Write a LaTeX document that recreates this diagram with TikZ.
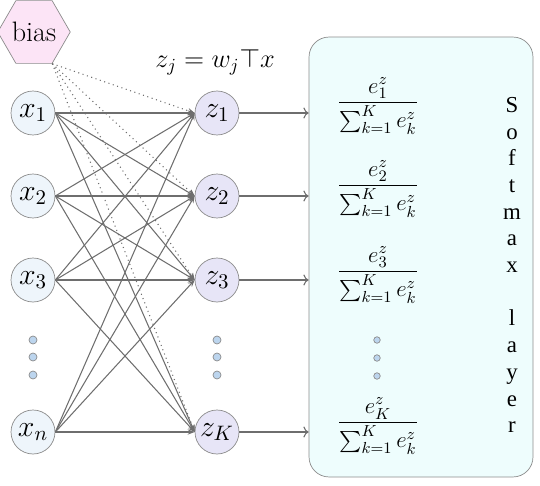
\RequirePackage{fix-cm}
\documentclass[tikz,border=0pt]{standalone}
\usepackage{amsmath}
\usepackage{xcolor}
\usepackage{fontspec}
\newfontfamily\timesfont{Liberation Serif}
\usepackage{tikz}
\usetikzlibrary{shapes.geometric,arrows.meta}
\definecolor{netgray}{HTML}{6E6E6E}
\definecolor{rimgray}{HTML}{8C8C8C}
\definecolor{xfill}{HTML}{EEF5FB}
\definecolor{zfill}{HTML}{E7E5F7}
\definecolor{biaspink}{HTML}{FCE4F6}
\definecolor{boxcyan}{HTML}{EEFDFD}
\definecolor{dotblue}{HTML}{BCD5EE}

\begin{document}
\begin{tikzpicture}[x=0.02cm, y=-0.02cm,
  xunit/.style={circle, draw=rimgray, fill=xfill, minimum size=0.88cm,
    inner sep=0pt, font=\fontsize{17}{20}\selectfont},
  zunit/.style={xunit, fill=zfill},
  biasbox/.style={regular polygon, regular polygon sides=6, draw=rimgray,
    fill=biaspink, minimum size=1.36cm, inner sep=0pt,
    font=\fontsize{16}{18}\selectfont},
  dotmark/.style={circle, draw=rimgray, fill=dotblue, minimum size=0.16cm,
    inner sep=0pt},
  link/.style={netgray, semithick, -{Stealth[length=4pt,width=3pt]}},
  biaslink/.style={link, dotted},
  outlink/.style={netgray, semithick, -{To[length=3pt]}},
  frac/.style={font=\fontsize{13}{15}\selectfont, inner sep=0pt}]
  \useasboundingbox (0,0) rectangle (540,486);

  % softmax panel on the right
  \node[draw=rimgray, fill=boxcyan, rounded corners=0.4cm,
        minimum width=4.48cm, minimum height=8.8cm] (sm) at (421,257) {};

  % bias and input layer
  \node[biasbox] (b) at (34,32) {bias};
  \node[xunit] (x1) at (33,113) {$x_1$};
  \node[xunit] (x2) at (33,196) {$x_2$};
  \node[xunit] (x3) at (33,280) {$x_3$};
  \node[xunit] (xn) at (33,432) {$x_n$};
  \node[dotmark] (xd1) at (33,340) {};
  \node[dotmark] (xd2) at (33,357) {};
  \node[dotmark] (xd3) at (33,375) {};

  % output units
  \node[zunit] (z1) at (217,113) {$z_1$};
  \node[zunit] (z2) at (217,196) {$z_2$};
  \node[zunit] (z3) at (217,280) {$z_3$};
  \node[zunit] (zK) at (217,432) {$z_K$};
  \node[dotmark] (zd1) at (217,340) {};
  \node[dotmark] (zd2) at (217,357) {};
  \node[dotmark] (zd3) at (217,375) {};
  \node[anchor=base, font=\fontsize{15}{18}\selectfont] (eq) at (215,68)
       {$z_j = w_j\top x$};

  % dotted bias links
  \draw[biaslink] (b.corner 5) -- (z1.west);
  \draw[biaslink] (b.corner 5) -- (z2.west);
  \draw[biaslink] (b.corner 5) -- (z3.west);
  \draw[biaslink] (b.corner 5) -- (zK.west);

  % full connections x -> z
  \draw[link] (x1.east) -- (z1.west);
  \draw[link] (x1.east) -- (z2.west);
  \draw[link] (x1.east) -- (z3.west);
  \draw[link] (x1.east) -- (zK.west);
  \draw[link] (x2.east) -- (z1.west);
  \draw[link] (x2.east) -- (z2.west);
  \draw[link] (x2.east) -- (z3.west);
  \draw[link] (x2.east) -- (zK.west);
  \draw[link] (x3.east) -- (z1.west);
  \draw[link] (x3.east) -- (z2.west);
  \draw[link] (x3.east) -- (z3.west);
  \draw[link] (x3.east) -- (zK.west);
  \draw[link] (xn.east) -- (z1.west);
  \draw[link] (xn.east) -- (z2.west);
  \draw[link] (xn.east) -- (z3.west);
  \draw[link] (xn.east) -- (zK.west);

  % z -> softmax panel
  \draw[outlink] (z1.east) -- (z1 -| sm.west);
  \draw[outlink] (z2.east) -- (z2 -| sm.west);
  \draw[outlink] (z3.east) -- (z3 -| sm.west);
  \draw[outlink] (zK.east) -- (zK -| sm.west);

  % softmax terms
  \node[frac] (f1) at (378,106) {$\dfrac{e_1^z}{\sum_{k=1}^K e_k^z}$};
  \node[frac] (f2) at (378,189) {$\dfrac{e_2^z}{\sum_{k=1}^K e_k^z}$};
  \node[frac] (f3) at (378,275) {$\dfrac{e_3^z}{\sum_{k=1}^K e_k^z}$};
  \node[frac] (fK) at (378,426) {$\dfrac{e_K^z}{\sum_{k=1}^K e_k^z}$};
  \node[dotmark, minimum size=0.13cm] (fd1) at (377,340) {};
  \node[dotmark, minimum size=0.13cm] (fd2) at (377,358) {};
  \node[dotmark, minimum size=0.13cm] (fd3) at (377,376) {};

  % vertical label
  \node[align=center, font=\timesfont\fontsize{13}{15.2}\selectfont] (lbl)
       at (512,265) {S\\o\\f\\t\\m\\a\\x\\\mbox{}\\l\\a\\y\\e\\r};
\end{tikzpicture}
\end{document}
